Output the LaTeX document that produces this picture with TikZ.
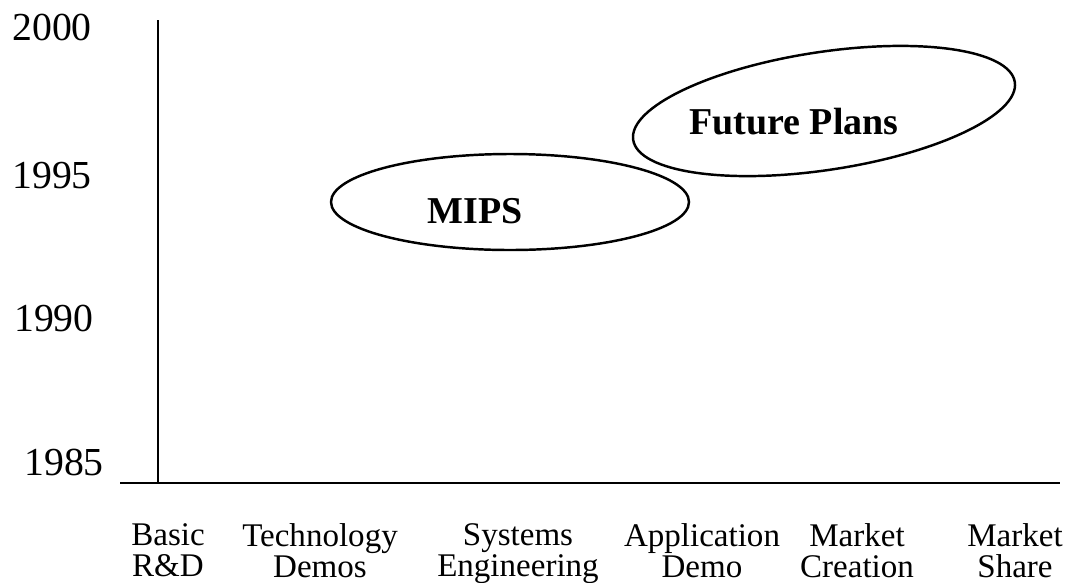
\documentclass[tikz,border=0pt]{standalone}
\usepackage{fontspec}
\setmainfont{Liberation Serif}
\usetikzlibrary{shapes}

\begin{document}
\begin{tikzpicture}[year/.style={font=\fontsize{11.3}{13}\selectfont},
    stage/.style={align=center,anchor=north,inner sep=0pt,font=\fontsize{9.4}{8.9}\selectfont},
    plan/.style={font=\fontsize{10.8}{13}\selectfont\bfseries}]
    \useasboundingbox (0,0) rectangle (10.68,5.82);
    \draw[line width=0.7pt] (1.58,5.62)-- (1.58,0.98);
    \draw[line width=0.7pt] (1.20,0.99)-- (10.60,0.99);
    \node[year] (y2000) at (0.52,5.55) {2000};
    \node[year] (y1995) at (0.52,4.06) {1995};
    \node[year] (y1990) at (0.54,2.64) {1990};
    \node[year] (y1985) at (0.64,1.20) {1985};
    \node[stage] (rd) at (1.68,0.59) {Basic\\R\&D};
    \node[stage] (tech) at (3.20,0.59) {Technology\\Demos};
    \node[stage] (sys) at (5.18,0.59) {Systems\\Engineering};
    \node[stage] (app) at (7.02,0.59) {Application\\Demo};
    \node[stage] (mkc) at (8.57,0.59) {Market\\Creation};
    \node[stage] (mks) at (10.15,0.59) {Market\\Share};
    \draw[line width=0.7pt] (5.10,3.80) ellipse [x radius=1.79,y radius=0.48];
    \draw[line width=0.7pt] (8.24,4.71) ellipse [x radius=1.93,y radius=0.59,rotate=8.6];
    \node[plan] (mips) at (4.75,3.71) {MIPS};
    \node[plan] (future) at (7.94,4.60) {Future Plans};
\end{tikzpicture}
\end{document}
